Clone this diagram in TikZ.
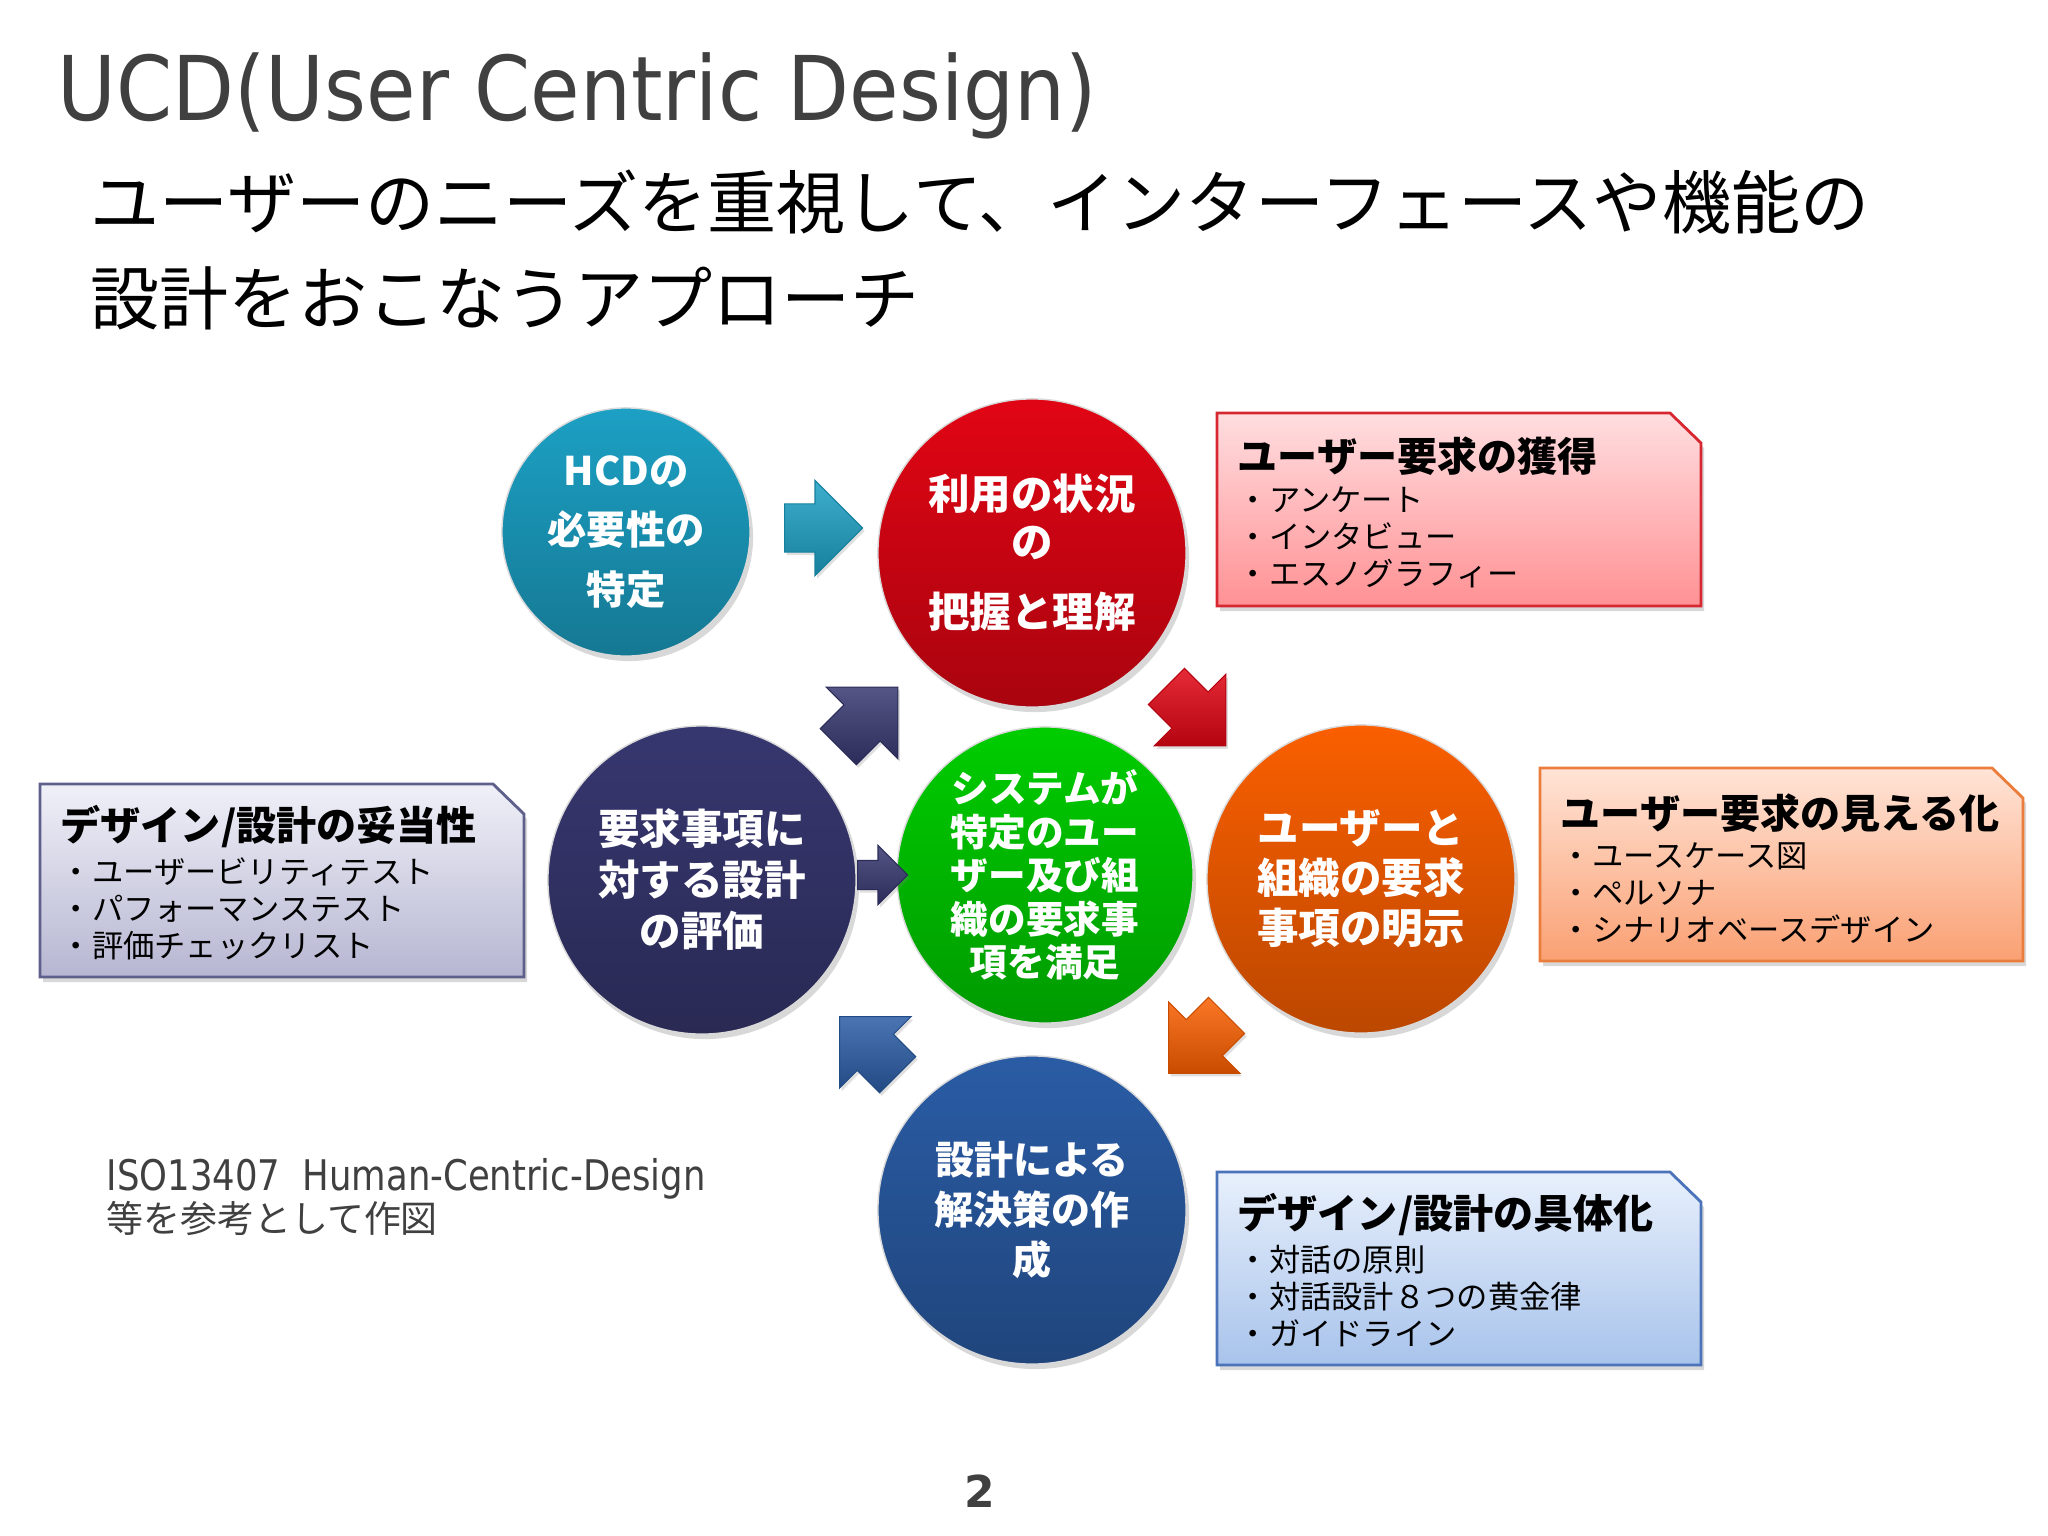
\documentclass[tikz,border=0pt]{standalone}
\usepackage{fontspec}
\setmainfont{DejaVu Sans}
\newfontfamily\jp{Noto Sans CJK JP}
\newfontfamily\titlefont[FakeStretch=0.9]{DejaVu Sans}
\newfontfamily\notefont[FakeStretch=0.84]{DejaVu Sans}
\usepackage{tikz}
\usetikzlibrary{shapes.arrows, shadows}

\definecolor{textgray}{RGB}{64,64,64}
\definecolor{hcdcyan}{RGB}{28,160,196}
\definecolor{ctxred}{RGB}{225,5,20}
\definecolor{sysgreen}{RGB}{0,205,0}
\definecolor{reqorange}{RGB}{250,95,0}
\definecolor{evalnavy}{RGB}{55,55,112}
\definecolor{solblue}{RGB}{42,92,165}

\begin{document}
\begin{tikzpicture}[x=0.01cm, y=-0.01cm,
    ball/.style={circle, inner sep=0pt, minimum size=3.08cm, align=center, text=white, draw=white!70!gray, line width=0.4pt, drop shadow={opacity=0.3, shadow xshift=0.03cm, shadow yshift=-0.05cm}},
    ballcol/.style={top color=#1, middle color=#1, bottom color=#1!75!black},
    blockarrow/.style={single arrow, anchor=tail, inner xsep=0pt, single arrow tip angle=90, draw=#1!80!black, line width=0.3pt, top color=#1!85!white, bottom color=#1!80!black, drop shadow={opacity=0.25, shadow xshift=0.02cm, shadow yshift=-0.03cm}},
    notebox/.style={line width=0.8pt, drop shadow={opacity=0.3, shadow xshift=0.03cm, shadow yshift=-0.05cm}},
    boxtitle/.style={anchor=west, inner sep=0pt, font=\jp\bfseries\fontsize{11.4}{13}\selectfont},
    boxitems/.style={anchor=west, inner sep=0pt, align=left, font=\jp\fontsize{8.9}{10.5}\selectfont}
  ]
  \useasboundingbox[fill=white] (0,0) rectangle (2048,1536);

  % heading
  \node[anchor=base west, inner sep=0pt, text=textgray, font=\titlefont\fontsize{25.4}{30}\selectfont] (title) at (57,120) {UCD(User Centric Design)};
  \node[anchor=west, inner sep=0pt, align=left, font=\jp\fontsize{19.65}{27.3}\selectfont] (sub) at (90,250) {ユーザーのニーズを重視して、インターフェースや機能の\\設計をおこなうアプローチ};

  % circles
  \node[ball, ballcol=hcdcyan, minimum size=2.48cm, font=\jp\bfseries\fontsize{11.2}{17}\selectfont] (hcd) at (626,532) {HCDの\\必要性の\\特定};
  \node[ball, ballcol=ctxred, font=\jp\bfseries\fontsize{11.8}{13.7}\selectfont] (ctx) at (1032,553) {利用の状況\\の\\[6.2pt]把握と理解};
  \node[ball, ballcol=sysgreen, minimum size=2.96cm, font=\jp\bfseries\fontsize{10.7}{12.4}\selectfont] (sys) at (1045,875) {システムが\\特定のユー\\ザー及び組\\織の要求事\\項を満足};
  \node[ball, ballcol=reqorange, font=\jp\bfseries\fontsize{11.8}{14.2}\selectfont] (req) at (1361,879) {ユーザーと\\組織の要求\\事項の明示};
  \node[ball, ballcol=evalnavy, font=\jp\bfseries\fontsize{11.8}{14.5}\selectfont] (eval) at (702,880) {要求事項に\\対する設計\\の評価};
  \node[ball, ballcol=solblue, font=\jp\bfseries\fontsize{11.1}{14.1}\selectfont] (sol) at (1032,1210) {設計による\\解決策の作\\成};

  % block arrows between the circles (placed by their tails)
  \node[blockarrow=hcdcyan, minimum height=0.78cm, inner ysep=0.235cm, single arrow head extend=0.235cm] (hcd2ctx) at (784,528) {};
  \node[blockarrow=ctxred, rotate=-45, minimum height=0.84cm, inner ysep=0.25cm, single arrow head extend=0.25cm] (ctx2req) at (1166,686) {};
  \node[blockarrow=reqorange, rotate=-135, minimum height=0.82cm, inner ysep=0.25cm, single arrow head extend=0.25cm] (req2sol) at (1227,1015) {};
  \node[blockarrow=solblue, rotate=135, minimum height=0.82cm, inner ysep=0.25cm, single arrow head extend=0.25cm] (sol2eval) at (898,1075) {};
  \node[blockarrow=evalnavy, rotate=45, minimum height=0.84cm, inner ysep=0.25cm, single arrow head extend=0.25cm] (eval2ctx) at (838,747) {};
  \node[blockarrow=evalnavy, minimum height=0.5cm, inner ysep=0.14cm, single arrow head extend=0.15cm] (eval2sys) at (857,875) {};

  % note boxes
  \path[notebox, draw={rgb,255:red,215;green,40;blue,50}, top color={rgb,255:red,255;green,222;blue,224}, bottom color={rgb,255:red,255;green,145;blue,148}]
    (1217,413) -- (1670,413) -- (1701,443) -- (1701,606) -- (1217,606) -- cycle;
  \node[boxtitle] (obtaint) at (1237,456) {ユーザー要求の獲得};
  \node[boxitems] (obtaini) at (1237,537) {・アンケート\\・インタビュー\\・エスノグラフィー};

  \path[notebox, draw={rgb,255:red,235;green,125;blue,60}, top color={rgb,255:red,255;green,228;blue,215}, bottom color={rgb,255:red,250;green,160;blue,115}]
    (1540,768) -- (1992,768) -- (2023,798) -- (2023,961) -- (1540,961) -- cycle;
  \node[boxtitle] (visualt) at (1560,813) {ユーザー要求の見える化};
  \node[boxitems] (visuali) at (1560,893) {・ユースケース図\\・ペルソナ\\・シナリオベースデザイン};

  \path[notebox, draw={rgb,255:red,95;green,95;blue,140}, top color={rgb,255:red,240;green,240;blue,248}, bottom color={rgb,255:red,182;green,182;blue,210}]
    (40,784) -- (493,784) -- (524,814) -- (524,977) -- (40,977) -- cycle;
  \node[boxtitle] (validt) at (60,827) {デザイン/設計の妥当性};
  \node[boxitems] (validi) at (60,909) {・ユーザービリティテスト\\・パフォーマンステスト\\・評価チェックリスト};

  \path[notebox, draw={rgb,255:red,75;green,115;blue,185}, top color={rgb,255:red,232;green,240;blue,252}, bottom color={rgb,255:red,168;green,195;blue,235}]
    (1217,1172) -- (1670,1172) -- (1701,1202) -- (1701,1365) -- (1217,1365) -- cycle;
  \node[boxtitle] (concretet) at (1237,1215) {デザイン/設計の具体化};
  \node[boxitems] (concretei) at (1237,1296) {・対話の原則\\・対話設計８つの黄金律\\・ガイドライン};

  % source note and page number
  \node[anchor=west, inner sep=0pt, align=left, text=textgray] (source) at (106,1197)
    {\notefont\fontsize{12}{14.2}\selectfont ISO13407\ \ Human-Centric-Design\\\jp\fontsize{10.5}{14.2}\selectfont 等を参考として作図};
  \node[text=textgray, font=\bfseries\fontsize{12.5}{15}\selectfont] (page) at (980,1491) {2};
\end{tikzpicture}
\end{document}
